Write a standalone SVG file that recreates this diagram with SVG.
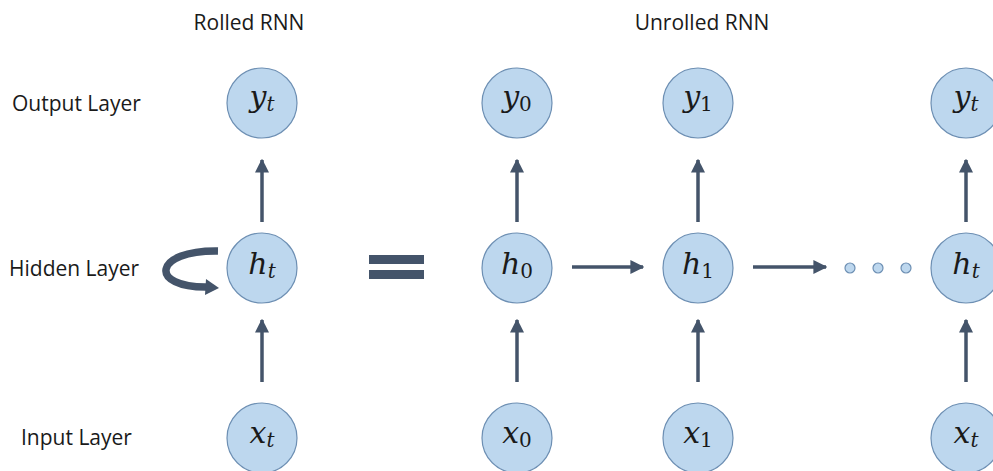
<svg xmlns="http://www.w3.org/2000/svg" width="993" height="471" viewBox="0 0 993 471">
<defs>
<style>
.n{fill:#bdd7ee;stroke:#6d8fb3;stroke-width:1.2}
.m{font-family:"DejaVu Serif","Liberation Serif",serif;font-style:italic;font-size:30px;fill:#1a1a1a;text-anchor:middle}
.s{font-size:20px;font-style:normal}
.st{font-size:20px}
.lb{font-family:"Open Sans","Liberation Sans",sans-serif;font-size:21px;fill:#1a1a1a}
.c{stroke:#44546a;stroke-width:3.5;fill:none}
</style>
<marker id="ah" viewBox="0 0 10 10" refX="9" refY="5" markerWidth="4" markerHeight="4" orient="auto" markerUnits="strokeWidth">
<path d="M0,0 L10,5 L0,10 z" fill="#44546a"/>
</marker>
</defs>
<rect width="993" height="471" fill="#fff"/>
<text class="lb" x="249" y="30" text-anchor="middle">Rolled RNN</text>
<text class="lb" x="702" y="30" text-anchor="middle">Unrolled RNN</text>
<text class="lb" x="12" y="111">Output Layer</text>
<text class="lb" x="9" y="276">Hidden Layer</text>
<text class="lb" x="21" y="445">Input Layer</text>
<g id="connectors">
<line class="c" x1="262" y1="222" x2="262" y2="160" marker-end="url(#ah)"/>
<line class="c" x1="262" y1="382" x2="262" y2="320" marker-end="url(#ah)"/>
<line class="c" x1="517" y1="222" x2="517" y2="160" marker-end="url(#ah)"/>
<line class="c" x1="517" y1="382" x2="517" y2="320" marker-end="url(#ah)"/>
<line class="c" x1="698" y1="222" x2="698" y2="160" marker-end="url(#ah)"/>
<line class="c" x1="698" y1="382" x2="698" y2="320" marker-end="url(#ah)"/>
<line class="c" x1="966" y1="222" x2="966" y2="160" marker-end="url(#ah)"/>
<line class="c" x1="966" y1="382" x2="966" y2="320" marker-end="url(#ah)"/>
<line class="c" x1="572" y1="267" x2="643" y2="267" marker-end="url(#ah)"/>
<line class="c" x1="753" y1="267" x2="826" y2="267" marker-end="url(#ah)"/>
<path d="M218,251 C153,250 148,288 208,287" stroke="#44546a" stroke-width="7.5" fill="none"/>
<path d="M206,279 L219,288 L205,295 z" fill="#44546a"/>
</g>
<g id="equals">
<rect x="369" y="255" width="55" height="9" fill="#44546a"/>
<rect x="369" y="270" width="55" height="9" fill="#44546a"/>
</g>
<g id="dots">
<circle class="n" cx="850" cy="268" r="5"/>
<circle class="n" cx="878" cy="268" r="5"/>
<circle class="n" cx="906" cy="268" r="5"/>
</g>
<g id="y_rolled"><circle class="n" cx="262" cy="103" r="35"/><text class="m" x="262" y="107">y<tspan class="st" dy="4">t</tspan></text></g>
<g id="h_rolled"><circle class="n" cx="262" cy="268" r="35"/><text class="m" x="262" y="274">h<tspan class="st" dy="4">t</tspan></text></g>
<g id="x_rolled"><circle class="n" cx="262" cy="438" r="35"/><text class="m" x="262" y="443">x<tspan class="st" dy="4">t</tspan></text></g>
<g id="y0"><circle class="n" cx="517" cy="103" r="35"/><text class="m" x="517" y="107">y<tspan class="s" dy="4">0</tspan></text></g>
<g id="h0"><circle class="n" cx="517" cy="268" r="35"/><text class="m" x="517" y="274">h<tspan class="s" dy="4">0</tspan></text></g>
<g id="x0"><circle class="n" cx="517" cy="438" r="35"/><text class="m" x="517" y="443">x<tspan class="s" dy="4">0</tspan></text></g>
<g id="y1"><circle class="n" cx="698" cy="103" r="35"/><text class="m" x="698" y="107">y<tspan class="s" dy="4">1</tspan></text></g>
<g id="h1"><circle class="n" cx="698" cy="268" r="35"/><text class="m" x="698" y="274">h<tspan class="s" dy="4">1</tspan></text></g>
<g id="x1"><circle class="n" cx="698" cy="438" r="35"/><text class="m" x="698" y="443">x<tspan class="s" dy="4">1</tspan></text></g>
<g id="yt"><circle class="n" cx="966" cy="103" r="35"/><text class="m" x="966" y="107">y<tspan class="st" dy="4">t</tspan></text></g>
<g id="ht"><circle class="n" cx="966" cy="268" r="35"/><text class="m" x="966" y="274">h<tspan class="st" dy="4">t</tspan></text></g>
<g id="xt"><circle class="n" cx="966" cy="438" r="35"/><text class="m" x="966" y="443">x<tspan class="st" dy="4">t</tspan></text></g>
</svg>
